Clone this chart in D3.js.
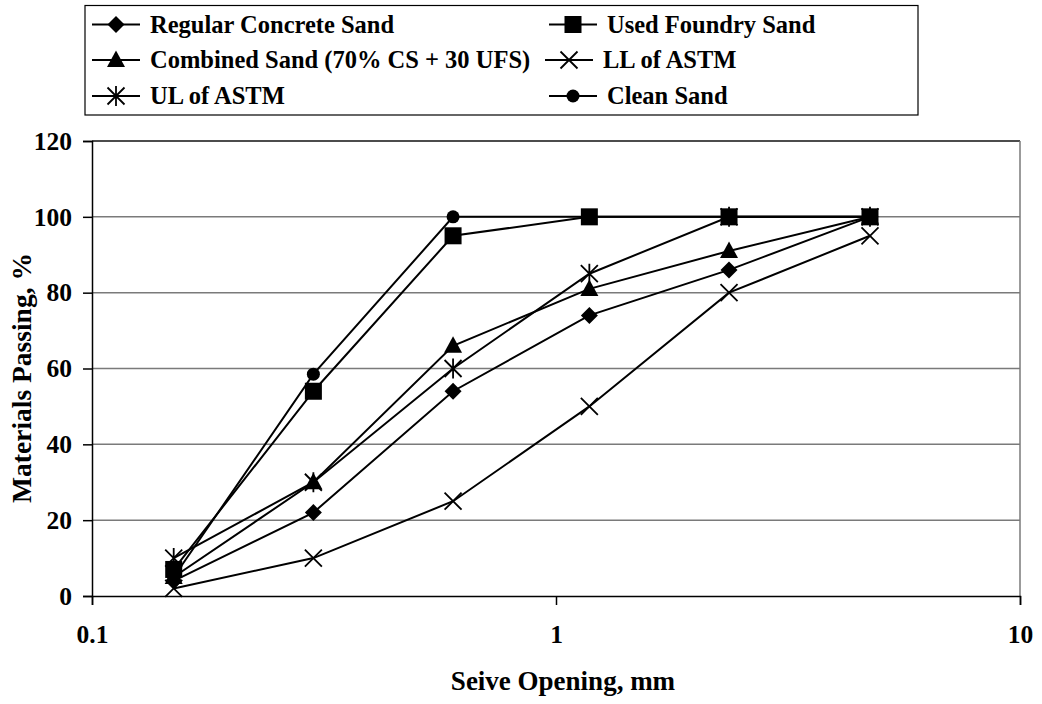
<!DOCTYPE html>
<html>
<head>
<meta charset="utf-8">
<script src="https://cdn.jsdelivr.net/npm/d3@7/dist/d3.min.js"></script>
<style>
  html, body { margin: 0; padding: 0; background: #fff; }
  svg { display: block; }
  text { font-family: "Liberation Serif", "Times New Roman", serif; font-weight: bold; fill: #000; }
</style>
</head>
<body>
<svg id="chart" width="1042" height="704"></svg>
<script>
// Sieve openings (mm)
const sieveSizes = [0.15, 0.3, 0.6, 1.18, 2.36, 4.75];

// Percent passing for each material / limit
const regularConcreteSand = [4, 22, 54, 74, 86, 100];
const usedFoundrySand     = [7, 54, 95, 100, 100, 100];
const combinedSand        = [5, 30, 66, 81, 91, 100];
const llOfAstm            = [2, 10, 25, 50, 80, 95];
const ulOfAstm            = [10, 30, 60, 85, 100, 100];
const cleanSand           = [5, 58.5, 100, 100, 100, 100];

const seriesNames = [
  "Regular Concrete Sand", "Used Foundry Sand",
  "Combined Sand (70% CS + 30 UFS)", "LL of ASTM",
  "UL of ASTM", "Clean Sand"
];
const seriesValues = [regularConcreteSand, usedFoundrySand, combinedSand, llOfAstm, ulOfAstm, cleanSand];
const seriesMarkers = ["diamond", "square", "triangle", "cross", "star", "circle"];

const yTicks = [0, 20, 40, 60, 80, 100, 120];
const xTicks = [0.1, 1, 10];
const xTickLabels = ["0.1", "1", "10"];

const svg = d3.select("#chart");
const plot = { left: 92, right: 1020, top: 141, bottom: 596 };
const FONT = '"Liberation Serif", "Times New Roman", serif';

const x = d3.scaleLog().domain([0.1, 10]).range([plot.left, plot.right]);
const y = d3.scaleLinear().domain([0, 120]).range([plot.bottom, plot.top]);

// Horizontal gridlines
svg.append("g")
  .selectAll("line")
  .data(yTicks.filter(d => d > 0 && d < 120))
  .join("line")
  .attr("x1", plot.left).attr("x2", plot.right)
  .attr("y1", d => y(d)).attr("y2", d => y(d))
  .attr("stroke", "#7a7a7a").attr("stroke-width", 1.5);

// Top edge and right border of plot area
svg.append("line")
  .attr("x1", plot.left).attr("x2", plot.right)
  .attr("y1", y(120)).attr("y2", y(120))
  .attr("stroke", "#111").attr("stroke-width", 1.5);
svg.append("line")
  .attr("x1", plot.right).attr("x2", plot.right)
  .attr("y1", plot.top).attr("y2", plot.bottom)
  .attr("stroke", "#7a7a7a").attr("stroke-width", 1.5);

// Y axis
const yAxis = svg.append("g")
  .attr("transform", `translate(${plot.left},0)`)
  .call(d3.axisLeft(y).tickValues(yTicks).tickSize(9).tickPadding(11).tickFormat(d3.format("d")));
yAxis.select(".domain").attr("stroke", "#000").attr("stroke-width", 1.5);
yAxis.selectAll(".tick line").attr("stroke", "#000").attr("stroke-width", 1.5);
yAxis.selectAll(".tick text")
  .style("font-family", FONT).style("font-weight", "bold").style("font-size", "25.5px");

// X axis
const xAxis = svg.append("g")
  .attr("transform", `translate(0,${plot.bottom})`)
  .call(d3.axisBottom(x).tickValues(xTicks).tickSize(9).tickPadding(20)
    .tickFormat((d, i) => xTickLabels[i]));
xAxis.select(".domain").attr("stroke", "#000").attr("stroke-width", 1.5);
xAxis.selectAll(".tick line").attr("stroke", "#000").attr("stroke-width", 1.5);
xAxis.selectAll(".tick text")
  .style("font-family", FONT).style("font-weight", "bold").style("font-size", "25.5px");

// Axis titles
svg.append("text")
  .attr("x", 563).attr("y", 690)
  .attr("text-anchor", "middle").style("font-size", "27px")
  .text("Seive Opening, mm");

svg.append("text")
  .attr("transform", `translate(31,378) rotate(-90)`)
  .attr("text-anchor", "middle").style("font-size", "27.5px")
  .text("Materials Passing, %");

// Marker drawing
function drawMarker(g, type, cx, cy) {
  if (type === "diamond") {
    const s = 8.5;
    g.append("path").attr("d", `M${cx},${cy - s}L${cx + s},${cy}L${cx},${cy + s}L${cx - s},${cy}Z`).attr("fill", "#000");
  } else if (type === "square") {
    g.append("rect").attr("x", cx - 8.5).attr("y", cy - 8.5).attr("width", 17).attr("height", 17).attr("fill", "#000");
  } else if (type === "triangle") {
    g.append("path").attr("d", `M${cx},${cy - 9.5}L${cx + 9},${cy + 7}L${cx - 9},${cy + 7}Z`).attr("fill", "#000");
  } else if (type === "circle") {
    g.append("circle").attr("cx", cx).attr("cy", cy).attr("r", 6.5).attr("fill", "#000");
  } else if (type === "cross") {
    const c = 8.5;
    g.append("path").attr("d", `M${cx - c},${cy - c}L${cx + c},${cy + c}M${cx - c},${cy + c}L${cx + c},${cy - c}`)
      .attr("stroke", "#000").attr("stroke-width", 1.8).attr("fill", "none");
  } else if (type === "star") {
    const c = 8.5;
    g.append("path").attr("d", `M${cx - c},${cy - c}L${cx + c},${cy + c}M${cx - c},${cy + c}L${cx + c},${cy - c}M${cx},${cy - 10}L${cx},${cy + 10}`)
      .attr("stroke", "#000").attr("stroke-width", 1.8).attr("fill", "none");
  }
}

// Series lines and markers
const line = d3.line().x(d => x(d[0])).y(d => y(d[1]));
const seriesG = svg.append("g");
seriesValues.forEach(vals => {
  const pts = sieveSizes.map((s, j) => [s, vals[j]]);
  seriesG.append("path").datum(pts).attr("d", line)
    .attr("fill", "none").attr("stroke", "#000").attr("stroke-width", 2);
});
seriesValues.forEach((vals, i) => {
  const g = seriesG.append("g");
  sieveSizes.forEach((s, j) => drawMarker(g, seriesMarkers[i], x(s), y(vals[j])));
});

// Legend
const legend = svg.append("g");
legend.append("rect")
  .attr("x", 85).attr("y", 5.5).attr("width", 833).attr("height", 109.5)
  .attr("fill", "#fff").attr("stroke", "#000").attr("stroke-width", 1.2);
const legendPos = [[92, 24.5], [549, 24.5], [92, 60], [545, 60], [92, 96], [549, 96]];
seriesNames.forEach((name, i) => {
  const [cx, cy] = legendPos[i];
  const g = legend.append("g");
  g.append("line").attr("x1", cx).attr("x2", cx + 48).attr("y1", cy).attr("y2", cy)
    .attr("stroke", "#000").attr("stroke-width", 2);
  drawMarker(g, seriesMarkers[i], cx + 24, cy);
  g.append("text").attr("x", cx + 58).attr("y", cy).attr("dy", "0.34em")
    .style("font-size", "24.5px").text(name);
});
</script>
</body>
</html>
